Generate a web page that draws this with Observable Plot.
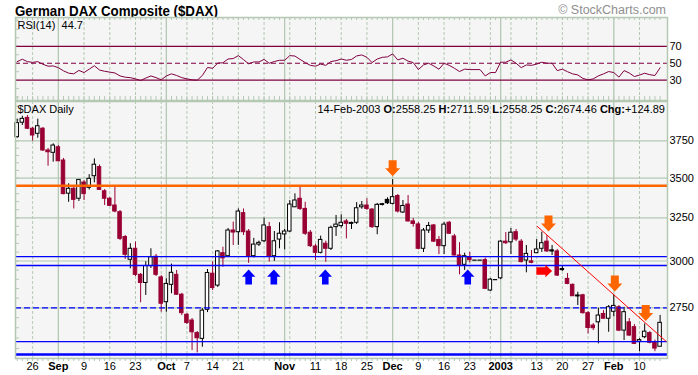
<!DOCTYPE html>
<html>
<head>
<meta charset="utf-8">
<script src="https://cdn.jsdelivr.net/npm/d3@7"></script>
<script src="https://cdn.jsdelivr.net/npm/@observablehq/plot@0.6"></script>
<style>
  html,body{margin:0;padding:0;background:#fff;}
  #wrap{position:relative;width:698px;height:375px;overflow:hidden;font-family:Arial,"Liberation Sans",Helvetica,sans-serif;}
  #title{position:absolute;left:15px;top:2.9px;font-size:15.5px;line-height:15.5px;font-weight:bold;white-space:nowrap;transform:scaleX(0.86);transform-origin:0 0;color:#000;}
  #copy{position:absolute;right:32px;top:4.4px;font-size:12.5px;line-height:12.5px;color:#8f8f8f;white-space:nowrap;}
  #rsi{position:absolute;left:0;top:16px;}
  #main{position:absolute;left:0;top:100px;}
  #hdr{position:absolute;right:33px;top:103.6px;font-size:11px;line-height:11px;white-space:pre;color:#000;}
  svg{display:block;}
</style>
</head>
<body>
<div id="wrap">
  <div id="title">German DAX Composite ($DAX)</div>
  <div id="copy">© StockCharts.com</div>
  <div id="rsi"></div>
  <div id="main"></div>
  <div id="hdr"></div>
</div>
<script>
// ---------- trading calendar ----------
const startDate = "2002-08-21", endDate = "2003-02-14";
const holidays = ["2002-12-25", "2003-01-01"];

// ---------- OHLC values ----------
const open = [
3776,3879,3914,3836,3800,3836,3684,3668,3706,3616,
3400,3431,3368,3471,3437,3512,3572,3415,3368,3326,
3285,3137,3007,3069,2924,2880,2972,3024,2910,2779,
2870,2924,2818,2715,2686,2624,2596,2740,2930,2866,
3044,3027,3175,3165,3279,3169,3027,3093,3112,3195,
3027,3122,3152,3169,3315,3368,3305,3162,3082,3046,
3098,3069,3195,3201,3229,3215,3221,3315,3326,3301,
3195,3330,3361,3336,3385,3283,3332,3229,3211,3069,
3175,3205,3120,3084,3221,3140,3031,2979,3021,3005,
3005,3005,2840,2898,2905,3110,3106,3165,3110,3003,
2998,3044,3069,3110,3060,3054,2956,2902,2870,2814,
2815,2723,2661,2677,2719,2695,2730,2753,2636,2677,
2653,2582,2604,2624,2580,2558.25];
const high = [
3905,3926,3931,3845,3905,3845,3698,3730,3718,3630,
3463,3446,3488,3484,3522,3627,3586,3426,3376,3442,
3295,3146,3098,3108,2931,2996,3069,3037,2920,2902,
2983,2948,2825,2721,2696,2632,2746,2953,2995,3059,
3078,3187,3225,3305,3305,3181,3129,3113,3249,3223,
3169,3221,3181,3357,3399,3440,3346,3175,3094,3142,
3113,3201,3265,3269,3241,3225,3344,3351,3368,3307,
3339,3339,3374,3490,3395,3357,3388,3247,3223,3187,
3223,3211,3140,3223,3229,3152,3104,3044,3049,3005,
3005,3017,2904,2898,3116,3163,3187,3181,3122,3088,
3059,3122,3165,3146,3088,3065,2970,2931,2875,2831,
2820,2731,2671,2748,2736,2762,2815,2762,2753,2696,
2666,2597,2669,2631,2590,2711.59];
const low = [
3769,3859,3830,3748,3769,3677,3578,3605,3609,3393,
3346,3305,3351,3357,3423,3469,3420,3326,3320,3281,
3116,3009,2957,2915,2776,2814,2959,2915,2728,2728,
2823,2814,2711,2666,2540,2529,2556,2726,2840,2856,
2966,3025,3088,3088,3146,2987,3017,3082,3105,2994,
2998,3069,3063,3163,3313,3295,3146,3076,3003,3040,
2993,3059,3140,3189,3126,3181,3211,3303,3295,3187,
3150,3323,3332,3330,3280,3277,3225,3195,3063,3048,
3158,3105,3036,3036,3152,3028,2924,2948,2989,3005,
3005,2845,2835,2898,2898,3093,3036,3110,2989,2935,
2985,3042,3048,3048,3031,2915,2943,2871,2809,2762,
2718,2620,2636,2572,2693,2628,2705,2631,2588,2607,
2569,2535,2597,2572,2535,2558.25];
const close = [
3876,3907,3836,3788,3854,3684,3672,3718,3611,3397,
3431,3361,3488,3397,3495,3588,3424,3368,3324,3289,
3126,3035,3069,2924,2880,2972,3021,2924,2771,2875,
2935,2818,2723,2674,2628,2599,2736,2934,2853,3054,
3015,3175,3163,3289,3165,3027,3093,3103,3205,3027,
3112,3156,3169,3332,3357,3305,3156,3084,3046,3120,
3069,3191,3210,3221,3215,3220,3309,3326,3305,3195,
3330,3334,3340,3378,3289,3323,3229,3214,3069,3175,
3202,3110,3084,3210,3156,3031,2975,3027,3005,3005,
3005,2849,2898,2898,3110,3101,3162,3122,2994,3040,
2990,3065,3101,3054,3057,2920,2953,2875,2810,2812,
2723,2649,2648,2711,2695,2753,2760,2636,2728,2612,
2572,2590,2631,2577,2549.57,2674.46];

// ---------- RSI(14) ----------
const rsi = [
51.9,54.7,51.9,51.0,51.9,48.8,46.5,46.8,44.8,41.0,
38.3,37.5,41.5,39.0,43.0,47.0,42.0,40.5,39.5,38.5,
35.0,33.5,33.0,31.5,29.6,32.5,35.0,33.0,30.4,35.0,
37.5,35.5,33.0,31.5,30.4,30.0,35.5,45.0,44.0,50.2,
50.5,55.0,55.5,59.0,54.3,49.3,51.5,51.5,54.5,50.0,
52.0,53.5,53.5,59.0,58.5,54.5,50.8,47.5,46.5,49.0,
47.5,52.0,53.0,55.0,53.5,54.5,58.6,59.8,57.0,50.8,
55.0,57.0,57.5,61.0,53.9,55.9,52.5,50.8,42.5,48.0,
50.0,46.8,42.9,50.0,47.5,44.1,40.2,43.0,42.5,42.5,
42.5,35.0,39.0,39.0,51.2,51.2,53.9,50.0,44.8,48.0,
47.5,49.0,51.2,50.0,50.0,41.3,43.0,40.0,37.4,36.2,
32.0,30.4,31.5,35.1,37.4,40.2,39.0,33.6,41.3,38.5,
34.3,36.0,38.2,36.5,35.5,44.7];
const rsiLevels = [70, 30];
const rsiMid = [50];
const rsiTicks = [70, 50, 30];

// ---------- axis ticks ----------
const priceTicks = [3750, 3500, 3250, 3000, 2750];
const tickDates = ["2002-08-26","2002-09-02","2002-09-09","2002-09-16","2002-09-23","2002-10-01","2002-10-07","2002-10-14","2002-10-21","2002-11-01","2002-11-11","2002-11-18","2002-11-25","2002-12-02","2002-12-09","2002-12-16","2002-12-23","2003-01-02","2003-01-13","2003-01-20","2003-01-27","2003-02-03","2003-02-10"];
const tickLabels = ["26","Sep","9","16","23","Oct","7","14","21","Nov","11","18","25","Dec","9","16","23","2003","13","20","27","Feb","10"];

// ---------- annotations ----------
const orangeLevel = [3450];
const blueSolidLevels = [3025, 2975, 2583];
const blueDashedLevels = [2750];
const blueThickLevels = [2522];
const downArrowIdx = [73, 103.3, 116.2, 122.2];
const downArrowTip = [3512, 3169, 2835, 2684];
const upArrowIdx = [45, 49.9, 59.9, 87.6];
const upArrowTip = [2953, 2953, 2953, 2953];
const rightArrowIdx = [104];
const rightArrowVal = [2945];
const trendIdx = [101.1, 126.2];
const trendVal = [3200, 2583];

// ---------- build ----------
const dates = [];
for (let t = Date.parse(startDate); t <= Date.parse(endDate); t += 864e5) {
  const d = new Date(t), wd = d.getUTCDay(), s = d.toISOString().slice(0, 10);
  if (wd > 0 && wd < 6 && !holidays.includes(s)) dates.push(d);
}
const iso = d => d.toISOString().slice(0, 10);
const idxOf = new Map(dates.map((d, i) => [iso(d), i]));
const allIdx = dates.map((d, i) => i);
const monthIdx = [], weekIdx = [];
dates.forEach((d, i) => {
  if (i > 0 && d.getUTCMonth() !== dates[i - 1].getUTCMonth()) monthIdx.push(i);
  else if (d.getUTCDay() === 1) weekIdx.push(i);
});
const labelMap = new Map(tickDates.map((s, k) => [idxOf.get(s), tickLabels[k]]));
const labelIdx = [...labelMap.keys()];
const monthLabelIdx = labelIdx.filter(i => monthIdx.includes(i));
const dayLabelIdx = labelIdx.filter(i => !monthIdx.includes(i));

const gridColor = "#b4c8b4";
const bg = "#f5f5f5";
const red = "#990033";
const maroon = "#800040";
const font = "Arial, 'Liberation Sans', Helvetica, sans-serif";
const xDomain = [-0.33, 126.44];
const frameW = 698 - 15 - 31;

const candles = dates.map((d, i) => ({i, o: open[i], h: high[i], l: low[i], c: close[i], p: i ? close[i - 1] : open[i]}));
const col = d => d.c >= d.p ? "#000" : red;
const hw = 0.34;
const doji = candles.filter(d => Math.abs(d.o - d.c) / d.c < 0.0025);

const arrowDown = {draw(c) { c.moveTo(-4, -16); c.lineTo(4, -16); c.lineTo(4, -8); c.lineTo(7.5, -8); c.lineTo(0, 0); c.lineTo(-7.5, -8); c.lineTo(-4, -8); c.closePath(); }};
const arrowUp = {draw(c) { c.moveTo(0, 0); c.lineTo(6.7, 7.3); c.lineTo(3.3, 7.3); c.lineTo(3.3, 15); c.lineTo(-3.3, 15); c.lineTo(-3.3, 7.3); c.lineTo(-6.7, 7.3); c.closePath(); }};
const arrowRight = {draw(c) { c.moveTo(0, 0); c.lineTo(-6.7, -6.2); c.lineTo(-6.7, -3.7); c.lineTo(-15.7, -3.7); c.lineTo(-15.7, 3.7); c.lineTo(-6.7, 3.7); c.lineTo(-6.7, 6.2); c.closePath(); }};

const downArrows = downArrowIdx.map((i, k) => ({i, v: downArrowTip[k]}));
const upArrows = upArrowIdx.map((i, k) => ({i, v: upArrowTip[k]}));
const rightArrows = rightArrowIdx.map((i, k) => ({i, v: rightArrowVal[k]}));
const trend = trendIdx.map((i, k) => ({i, v: trendVal[k]}));
const rsiData = rsi.map((v, i) => ({i, v}));

// RSI panel
const rsiH = 85;
const rsiPlot = Plot.plot({
  width: 698, height: rsiH,
  marginLeft: 15, marginRight: 31, marginTop: 1, marginBottom: 1,
  x: {domain: xDomain, axis: null, label: null},
  y: {domain: [6, 104], axis: null, label: null},
  style: {background: "transparent", fontFamily: font, fontSize: "11px", color: "#000"},
  marks: [
    Plot.frame({fill: bg, stroke: "none"}),
    Plot.ruleX(weekIdx, {stroke: gridColor, strokeDasharray: "3,2"}),
    Plot.ruleX(monthIdx, {stroke: gridColor, strokeWidth: 1.3}),
    Plot.ruleX(allIdx, {stroke: gridColor, insetBottom: rsiH - 2 - 3}),
    Plot.ruleX(allIdx, {stroke: gridColor, insetTop: rsiH - 2 - 4}),
    Plot.ruleY(d3.range(10, 101, 10), {stroke: gridColor, insetRight: frameW - 4}),
    Plot.ruleY(rsiLevels, {stroke: maroon, strokeWidth: 1.3}),
    Plot.ruleY(rsiMid, {stroke: maroon, strokeWidth: 1.2, strokeDasharray: "5,3"}),
    Plot.line(rsiData, {x: "i", y: "v", stroke: maroon, strokeWidth: 1}),
    Plot.axisY(rsiTicks, {anchor: "right", tickSize: 0, tickPadding: 2, tickFormat: d => String(d), fontSize: 11, label: null}),
    Plot.text([`RSI(14)\u00a0\u00a0${rsi[rsi.length - 1]}`], {text: d => d, frameAnchor: "top-left", dx: 2, dy: 4, lineAnchor: "top", textAnchor: "start", fontSize: 11}),
    Plot.frame({stroke: gridColor, strokeWidth: 1.5})
  ]
});
document.getElementById("rsi").appendChild(rsiPlot);

// Main price panel
const mainH = 275;
const mainPlot = Plot.plot({
  width: 698, height: mainH,
  marginLeft: 15, marginRight: 31, marginTop: 1, marginBottom: 17,
  x: {domain: xDomain, axis: null, label: null},
  y: {type: "log", domain: [2503, 4035], axis: null, label: null},
  style: {background: "transparent", fontFamily: font, fontSize: "11px", color: "#000"},
  marks: [
    Plot.frame({fill: bg, stroke: "none"}),
    Plot.ruleY(priceTicks, {stroke: gridColor, strokeWidth: 1.2}),
    Plot.ruleX(weekIdx, {stroke: gridColor, strokeDasharray: "3,2"}),
    Plot.ruleX(monthIdx, {stroke: gridColor, strokeWidth: 1.3}),
    Plot.ruleY(d3.range(2550, 4001, 50), {stroke: gridColor, insetRight: frameW - 4}),
    // candles
    Plot.ruleX(candles, {x: "i", y1: "l", y2: "h", stroke: col, strokeWidth: 1}),
    Plot.rect(candles, {x1: d => d.i - hw, x2: d => d.i + hw, y1: "o", y2: "c", fill: d => d.c >= d.o ? "#fff" : col(d), stroke: col, strokeWidth: 1}),
    Plot.ruleY(doji, {y: "c", x1: d => d.i - hw - 0.08, x2: d => d.i + hw + 0.08, stroke: col, strokeWidth: 1.2}),
    // annotations
    Plot.ruleY(orangeLevel, {stroke: "#ff6600", strokeWidth: 2.5}),
    Plot.ruleY(blueSolidLevels, {stroke: "#0000ff", strokeWidth: 1.3}),
    Plot.ruleY(blueDashedLevels, {stroke: "#0000ff", strokeWidth: 1.3, strokeDasharray: "6,3"}),
    Plot.ruleY(blueThickLevels, {stroke: "#0000ff", strokeWidth: 2.6}),
    Plot.line(trend, {x: "i", y: "v", stroke: "#ff0000", strokeWidth: 1}),
    Plot.dot(downArrows, {x: "i", y: "v", symbol: arrowDown, fill: "#ff6600", r: 5}),
    Plot.dot(upArrows, {x: "i", y: "v", symbol: arrowUp, fill: "#0000ff", r: 5}),
    Plot.dot(rightArrows, {x: "i", y: "v", symbol: arrowRight, fill: "#ff0000", r: 5}),
    // axes
    Plot.axisY(priceTicks, {anchor: "right", tickSize: 0, tickPadding: 2, tickFormat: d => String(d), fontSize: 11, label: null}),
    Plot.axisX(allIdx, {anchor: "bottom", tickSize: 3, stroke: gridColor, tickFormat: () => "", label: null}),
    Plot.axisX(dayLabelIdx, {anchor: "bottom", tickSize: 0, tickPadding: 4, tickFormat: i => labelMap.get(i), fontSize: 11, label: null}),
    Plot.axisX(monthLabelIdx, {anchor: "bottom", tickSize: 0, tickPadding: 4, tickFormat: i => labelMap.get(i), fontSize: 11, fontWeight: "bold", label: null}),
    Plot.text(["$DAX Daily"], {text: d => d, frameAnchor: "top-left", dx: 2, dy: 4, lineAnchor: "top", textAnchor: "start", fontSize: 11}),
    Plot.frame({stroke: gridColor, strokeWidth: 1.5})
  ]
});
document.getElementById("main").appendChild(mainPlot);

// header line
const n = close.length - 1;
const f2 = v => v.toFixed(2);
const chg = close[n] - close[n - 1];
document.getElementById("hdr").innerHTML =
  `${d3.utcFormat("%d-%b-%Y")(dates[n])} <b>O:</b>${f2(open[n])} <b>H:</b>${f2(high[n])} <b>L:</b>${f2(low[n])} <b>C:</b>${f2(close[n])} <b>Chg:</b>${chg >= 0 ? "+" : ""}${f2(chg)}`;
</script>
</body>
</html>
